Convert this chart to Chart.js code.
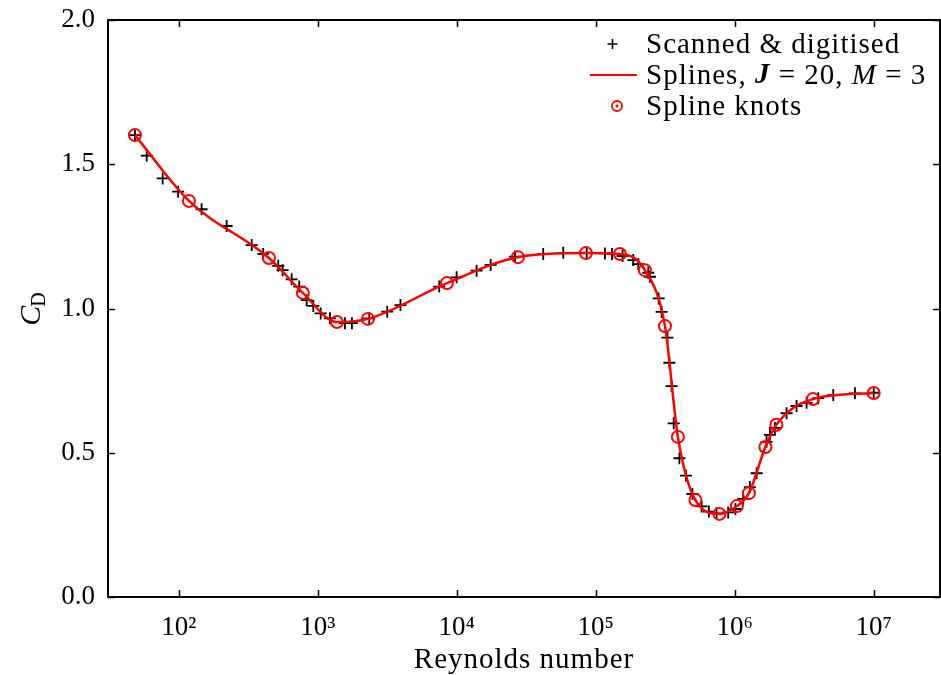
<!DOCTYPE html>
<html><head><meta charset="utf-8">
<script src="https://cdn.jsdelivr.net/npm/chart.js@4.4.1/dist/chart.umd.min.js"></script>
<style>html,body{margin:0;padding:0;background:#fff;overflow:hidden}#wrap{width:941px;height:675px;position:relative}canvas{display:block}</style>
</head><body><div id="wrap"><canvas id="c" width="941" height="675"></canvas></div>
<script>
const scannedRe = [48.4, 58.8, 76.6, 99, 146, 221, 335, 405, 520, 559, 649, 736, 832, 929, 1050, 1224, 1570, 1762, 2348, 3162, 3936, 7482, 9980, 13900, 17540, 26240, 41900, 58400, 86100, 116500, 130900, 156000, 186200, 202300, 238800, 245500, 283800, 297900, 328100, 338800, 351600, 364000, 400000, 445700, 496500, 578000, 651700, 740000, 897500, 1.012e6, 1.151e6, 1.285e6, 1.438e6, 1.695e6, 1.791e6, 1.945e6, 2.361e6, 2.786e6, 3.289e6, 3.990e6, 5.117e6, 7.328e6, 1.0e7];
const scannedCD = [1.601, 1.530, 1.451, 1.405, 1.344, 1.286, 1.220, 1.189, 1.148, 1.133, 1.101, 1.076, 1.029, 1.009, 0.983, 0.966, 0.949, 0.949, 0.966, 0.989, 1.012, 1.076, 1.108, 1.131, 1.151, 1.180, 1.189, 1.193, 1.193, 1.191, 1.189, 1.182, 1.168, 1.154, 1.124, 1.110, 1.035, 0.988, 0.899, 0.812, 0.731, 0.602, 0.481, 0.421, 0.357, 0.314, 0.296, 0.290, 0.293, 0.305, 0.340, 0.381, 0.429, 0.538, 0.562, 0.586, 0.637, 0.662, 0.673, 0.689, 0.700, 0.706, 0.708];
// Spline knots
const knotRe = [48.4, 118.4, 445.6, 782, 1374, 2297, 8500, 27560, 85000, 149300, 225900, 314800, 390000, 521300, 776200, 1.037e6, 1.265e6, 1.663e6, 1.995e6, 3.654e6, 1.0e7];
const knotCD = [1.601, 1.373, 1.175, 1.054, 0.953, 0.964, 1.088, 1.178, 1.192, 1.189, 1.133, 0.939, 0.555, 0.336, 0.288, 0.315, 0.360, 0.520, 0.597, 0.686, 0.707];
// Tick values / labels
const xTickValues = [1e2, 1e3, 1e4, 1e5, 1e6, 1e7];
const xTickLabels = ['10\u00B2', '10\u00B3', '10\u2074', '10\u2075', '10\u2076', '10\u2077'];
const yTickValues = [0, 0.5, 1.0, 1.5, 2.0];
const seriesNames = ['Scanned & digitised', 'Splines, J = 20, M = 3', 'Spline knots'];

const FONT = "'Liberation Serif', 'Times New Roman', serif";
const FS = 27;   // tick labels
const TFS = 29;  // text labels
const AREA = {left: 108, top: 20, right: 940, bottom: 597};

const pts = (xs, ys) => xs.map((x, i) => ({x: x, y: ys[i]}));
const zeroPad = s => { s.paddingLeft = 0; s.paddingRight = 0; s.paddingTop = 0; s.paddingBottom = 0; };

const fixArea = {
  id: 'fixArea',
  afterLayout(chart) {
    const a = chart.chartArea;
    a.left = AREA.left; a.right = AREA.right; a.top = AREA.top; a.bottom = AREA.bottom;
    a.width = a.right - a.left; a.height = a.bottom - a.top;
    const xs = chart.scales.x, ys = chart.scales.y;
    xs.left = AREA.left; xs.right = AREA.right; xs.width = AREA.right - AREA.left;
    xs.top = AREA.bottom; xs.bottom = chart.height; xs.height = xs.bottom - xs.top;
    xs.configure();
    ys.top = AREA.top; ys.bottom = AREA.bottom; ys.height = AREA.bottom - AREA.top;
    ys.left = 0; ys.right = AREA.left; ys.width = AREA.left;
    ys.configure();
  }
};

const frameTicks = {
  id: 'frameTicks',
  afterDatasetsDraw(chart) {
    const ctx = chart.ctx, a = chart.chartArea;
    const xs = chart.scales.x, ys = chart.scales.y;
    ctx.save();
    ctx.strokeStyle = '#000';
    ctx.lineWidth = 2;
    ctx.strokeRect(a.left, a.top, a.right - a.left, a.bottom - a.top);
    ctx.lineWidth = 1.5;
    const L = 7;
    ctx.beginPath();
    xTickValues.forEach(v => {
      const px = Math.round(xs.getPixelForValue(v)) + 0.5;
      ctx.moveTo(px, a.bottom); ctx.lineTo(px, a.bottom - L);
      ctx.moveTo(px, a.top); ctx.lineTo(px, a.top + L);
    });
    yTickValues.forEach(v => {
      const py = Math.round(ys.getPixelForValue(v)) + 0.5;
      ctx.moveTo(a.left, py); ctx.lineTo(a.left + L, py);
      ctx.moveTo(a.right, py); ctx.lineTo(a.right - L, py);
    });
    ctx.stroke();
    ctx.restore();
  },
  afterDraw(chart) {
    const ctx = chart.ctx, a = chart.chartArea;
    ctx.save();
    ctx.fillStyle = '#000';
    ctx.letterSpacing = '1px';
    // x title
    ctx.font = TFS + 'px ' + FONT;
    ctx.textAlign = 'center';
    ctx.textBaseline = 'alphabetic';
    ctx.fillText('Reynolds number', (a.left + a.right) / 2, 668);
    // y title C_D
    ctx.letterSpacing = '0px';
    ctx.save();
    ctx.translate(40, (a.top + a.bottom) / 2);
    ctx.rotate(-Math.PI / 2);
    ctx.textAlign = 'left';
    ctx.font = 'italic ' + (TFS + 1) + 'px ' + FONT;
    const wC = ctx.measureText('C').width;
    ctx.font = '20px ' + FONT;
    const wD = ctx.measureText('D').width;
    const x0 = -(wC + wD) / 2;
    ctx.font = 'italic ' + (TFS + 1) + 'px ' + FONT;
    ctx.fillText('C', x0, 0);
    ctx.font = '20px ' + FONT;
    ctx.fillText('D', x0 + wC - 1, 5);
    ctx.restore();
    // legend
    ctx.letterSpacing = '1px';
    const tx = 646;
    const rows = [45, 76, 107];
    ctx.textAlign = 'left';
    ctx.textBaseline = 'middle';
    // row 1: cross
    ctx.strokeStyle = '#000'; ctx.lineWidth = 1.6;
    ctx.beginPath();
    ctx.moveTo(607.5, rows[0] - 1); ctx.lineTo(617.5, rows[0] - 1);
    ctx.moveTo(612.5, rows[0] - 6); ctx.lineTo(612.5, rows[0] + 4);
    ctx.stroke();
    ctx.font = TFS + 'px ' + FONT;
    ctx.fillText(seriesNames[0], tx, rows[0]);
    // row 2: red line + mixed text
    ctx.strokeStyle = '#ff0000'; ctx.lineWidth = 2;
    ctx.beginPath(); ctx.moveTo(590, rows[1] - 1); ctx.lineTo(637, rows[1] - 1); ctx.stroke();
    const runs = [['Splines, ', ''], ['J', 'italic bold '], [' = 20, ', ''], ['M', 'italic '], [' = 3', '']];
    let cx = tx;
    runs.forEach(r => {
      ctx.font = r[1] + TFS + 'px ' + FONT;
      ctx.fillText(r[0], cx, rows[1]);
      cx += ctx.measureText(r[0]).width;
    });
    // row 3: circle with dot
    ctx.strokeStyle = '#ff0000'; ctx.lineWidth = 1.8;
    ctx.beginPath(); ctx.arc(617, rows[2] - 1, 5, 0, Math.PI * 2); ctx.stroke();
    ctx.fillStyle = '#ff0000';
    ctx.beginPath(); ctx.arc(617, rows[2] - 1, 1.4, 0, Math.PI * 2); ctx.fill();
    ctx.fillStyle = '#000';
    ctx.font = TFS + 'px ' + FONT;
    ctx.fillText(seriesNames[2], tx, rows[2]);
    ctx.restore();
  }
};

new Chart(document.getElementById('c'), {
  type: 'scatter',
  data: {
    datasets: [
      {
        label: seriesNames[0], data: pts(scannedRe, scannedCD), order: 3,
        pointStyle: 'cross', pointRadius: 6, pointBorderColor: '#000', pointBorderWidth: 1.8,
        showLine: false
      },
      {
        label: seriesNames[1], data: pts(knotRe, knotCD), order: 2, type: 'line',
        showLine: true, borderColor: '#ff0000', borderWidth: 2.5, pointRadius: 0,
        cubicInterpolationMode: 'monotone', fill: false
      },
      {
        label: seriesNames[2], data: pts(knotRe, knotCD), order: 1,
        pointStyle: 'circle', pointRadius: 6, pointBorderColor: '#ff0000',
        pointBackgroundColor: 'rgba(0,0,0,0)', pointBorderWidth: 2, showLine: false
      }
    ]
  },
  options: {
    responsive: false, animation: false, devicePixelRatio: 1,
    layout: {padding: {top: 20, right: 1, left: 0, bottom: 0}},
    plugins: {legend: {display: false}, tooltip: {enabled: false}},
    scales: {
      x: {
        type: 'logarithmic', min: Math.pow(10, 1.491), max: Math.pow(10, 7.477),
        afterBuildTicks: s => { s.ticks = xTickValues.map(v => ({value: v})); },
        afterFit: s => { s.height = 78; zeroPad(s); },
        grid: {display: false, drawTicks: false}, border: {display: false},
        ticks: {
          autoSkip: false, maxRotation: 0, padding: 15, color: '#000',
          font: {family: FONT, size: FS},
          callback: (v) => { const i = xTickValues.indexOf(v); return i >= 0 ? xTickLabels[i] : ''; }
        }
      },
      y: {
        type: 'linear', min: 0, max: 2,
        afterBuildTicks: s => { s.ticks = yTickValues.map(v => ({value: v})); },
        afterFit: s => { s.width = 108; zeroPad(s); },
        grid: {display: false, drawTicks: false}, border: {display: false},
        ticks: {
          padding: 13, color: '#000', font: {family: FONT, size: FS},
          callback: v => Number(v).toFixed(1)
        }
      }
    }
  },
  plugins: [fixArea, frameTicks]
});
</script>
</body></html>
